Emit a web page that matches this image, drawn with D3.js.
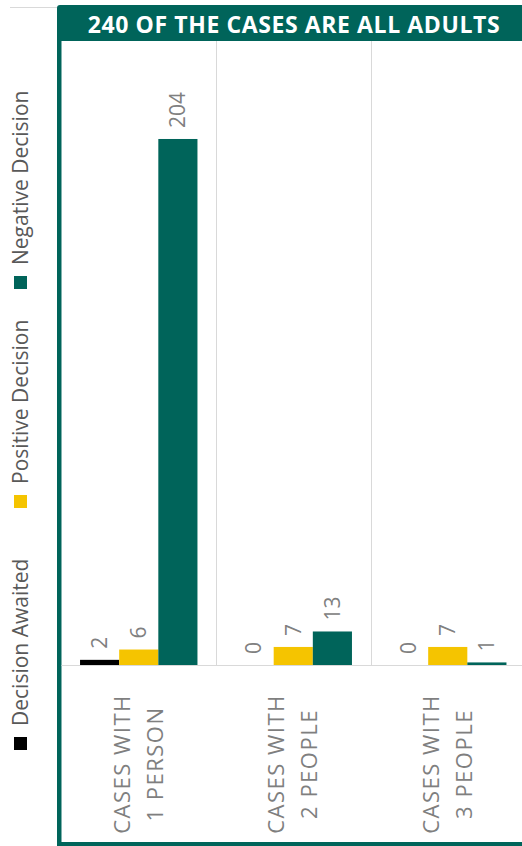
<!DOCTYPE html>
<html>
<head>
<meta charset="utf-8">
<script src="https://cdn.jsdelivr.net/npm/d3@7"></script>
<style>
  body { margin: 0; background: #fff; }
  svg { display: block; font-family: "Open Sans", sans-serif; }
</style>
</head>
<body>
<div id="chart"></div>
<script>
// data
const categories = ["CASES WITH|1 PERSON", "CASES WITH|2 PEOPLE", "CASES WITH|3 PEOPLE"];
const series = ["Decision Awaited", "Positive Decision", "Negative Decision"];
const decisionAwaited = [2, 0, 0];
const positiveDecision = [6, 7, 7];
const negativeDecision = [204, 13, 1];
const title = "240 OF THE CASES ARE ALL ADULTS";

const values = [decisionAwaited, positiveDecision, negativeDecision];
const colors = ["#000000", "#f5c400", "#00645a"];
const green = "#00645a";

const W = 522, H = 846;
const svg = d3.select("#chart").append("svg")
  .attr("width", W)
  .attr("height", H);

// outer chart border hint
svg.append("line")
  .attr("x1", 10).attr("x2", 57).attr("y1", 7.5).attr("y2", 7.5)
  .attr("stroke", "#d9d9d9");

// green frame
svg.append("rect")
  .attr("x", 57).attr("y", 5).attr("width", W - 57 + 10).attr("height", H - 5 + 10)
  .attr("rx", 3)
  .attr("fill", green);
svg.append("rect")
  .attr("x", 61.5).attr("y", 41).attr("width", W - 61.5 + 10).attr("height", 842 - 41)
  .attr("fill", "#fff");

svg.append("text")
  .attr("x", 294).attr("y", 33)
  .attr("text-anchor", "middle")
  .attr("fill", "#fff")
  .style("font-weight", "bold")
  .style("font-size", "23px")
  .style("letter-spacing", "0.6px")
  .text(title);

// scales
const plotTop = 41, baseY = 665;
const x = d3.scaleBand()
  .domain(categories)
  .range([61.5, 525])
  .padding(0);
const bw = x.bandwidth();
const xSub = d3.scaleBand()
  .domain(series)
  .range([bw * 0.12, bw * 0.88])
  .padding(0);
const y = d3.scaleLinear()
  .domain([0, 242])
  .range([baseY, plotTop]);

// category separators
svg.append("g")
  .selectAll("line")
  .data(categories.slice(1))
  .join("line")
  .attr("x1", d => Math.round(x(d)) + 0.5)
  .attr("x2", d => Math.round(x(d)) + 0.5)
  .attr("y1", plotTop)
  .attr("y2", baseY)
  .attr("stroke", "#d9d9d9");

// bars
const groups = svg.append("g")
  .selectAll("g")
  .data(categories)
  .join("g")
  .attr("transform", d => `translate(${x(d)},0)`);

groups.selectAll("rect")
  .data((d, i) => series.map((s, j) => ({ s: s, v: values[j][i], c: colors[j] })))
  .join("rect")
  .attr("x", d => xSub(d.s))
  .attr("width", xSub.bandwidth())
  .attr("y", d => y(d.v))
  .attr("height", d => baseY - y(d.v))
  .attr("fill", d => d.c);

// value labels
groups.selectAll("text")
  .data((d, i) => series.map((s, j) => ({ s: s, v: values[j][i] })))
  .join("text")
  .attr("transform", d => `translate(${xSub(d.s) + xSub.bandwidth() / 2},${y(d.v) - 11}) rotate(-90)`)
  .attr("dy", "0.35em")
  .attr("fill", "#808080")
  .style("font-size", "21px")
  .text(d => d.v);

// baseline
svg.append("line")
  .attr("x1", 61.5).attr("x2", W)
  .attr("y1", baseY + 0.5).attr("y2", baseY + 0.5)
  .attr("stroke", "#d9d9d9");

// category labels
const catLabels = svg.append("g")
  .selectAll("g")
  .data(categories)
  .join("g")
  .attr("transform", d => `translate(${x(d) + bw / 2},764) rotate(-90)`);
catLabels.selectAll("text")
  .data(d => d.split("|"))
  .join("text")
  .attr("x", 0)
  .attr("y", (d, i) => i === 0 ? -16.5 : 16.5)
  .attr("dy", "0.35em")
  .attr("text-anchor", "middle")
  .attr("fill", "#7f7f7f")
  .style("font-size", "22px")
  .style("letter-spacing", "1.5px")
  .text(d => d);

// legend
const legendPos = [750, 508, 289];
const legend = svg.append("g")
  .selectAll("g")
  .data(series)
  .join("g")
  .attr("transform", (d, i) => `translate(21,${legendPos[i]}) rotate(-90)`);
legend.append("rect")
  .attr("x", 0).attr("y", -7)
  .attr("width", 13).attr("height", 13)
  .attr("fill", (d, i) => colors[i]);
legend.append("text")
  .attr("x", 24)
  .attr("dy", "0.35em")
  .attr("fill", "#595959")
  .style("font-size", "21px")
  .text(d => d);
</script>
</body>
</html>
